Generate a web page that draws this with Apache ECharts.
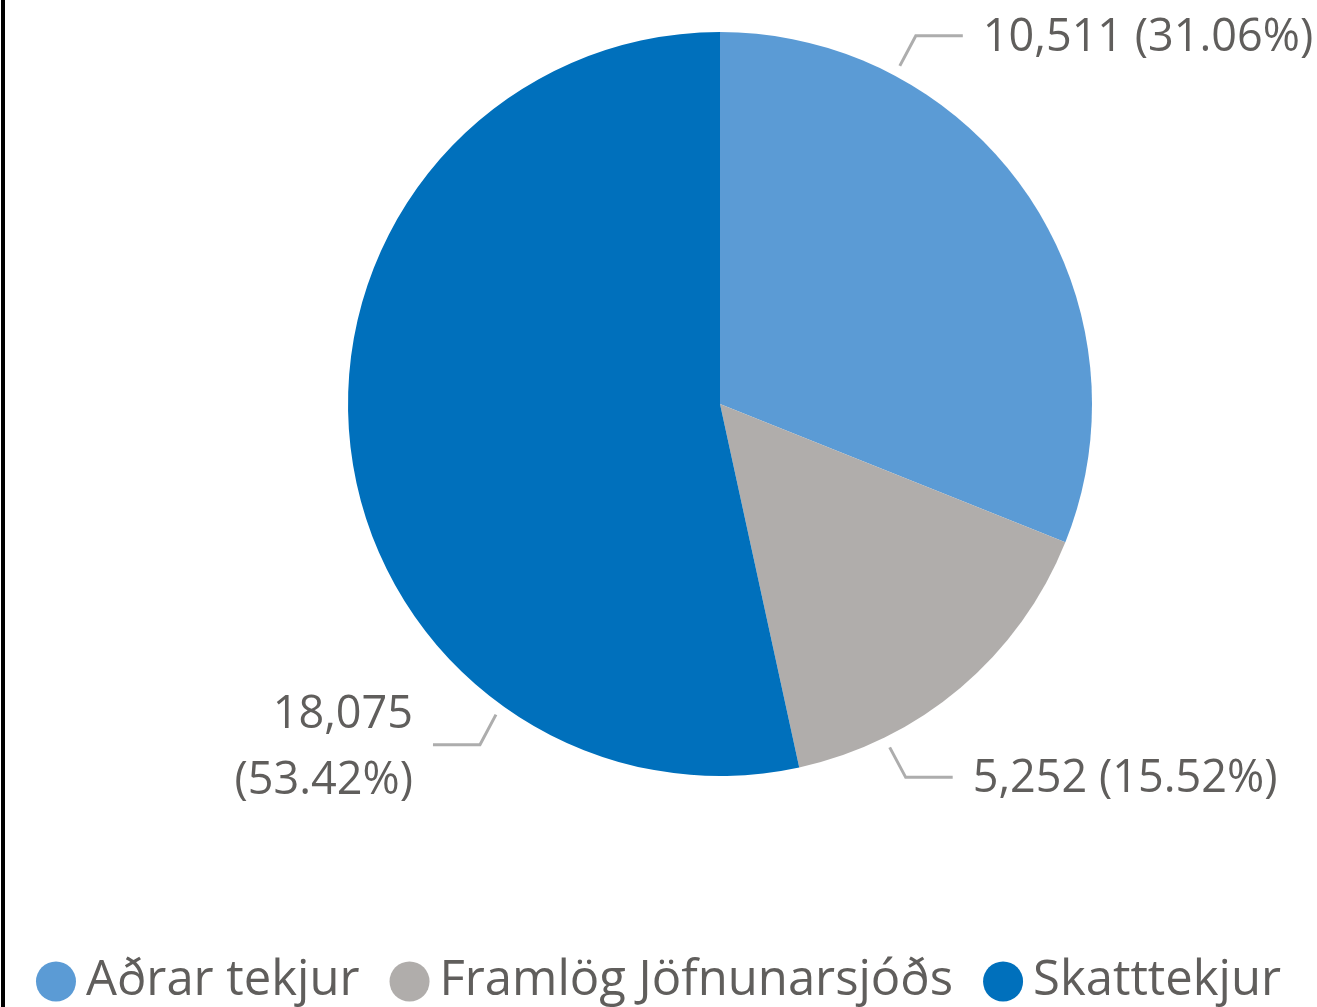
<!DOCTYPE html>
<html>
<head>
<meta charset="utf-8">
<script src="https://cdn.jsdelivr.net/npm/echarts@6/dist/echarts.min.js"></script>
<style>
  html, body { margin: 0; padding: 0; background: #fff; }
  #chart { width: 1317px; height: 1007px; }
</style>
</head>
<body>
<div id="chart"></div>
<script>
const categories = ['Aðrar tekjur', 'Framlög Jöfnunarsjóðs', 'Skatttekjur'];
const values = [10511, 5252, 18075];
const colors = ['#5B9BD5', '#B0ADAB', '#0070BC'];

// pie geometry (px)
const CX = 720, CY = 404, R = 372;
// where each label line leaves the pie, degrees counter-clockwise from 3 o'clock
const anchorAngles = [62, -63.7, 234.2];

const chart = echarts.init(document.getElementById('chart'));

const labelLayout = (params) => {
  const i = params.dataIndex;
  const a = anchorAngles[i] * Math.PI / 180;
  const cos = Math.cos(a), sin = Math.sin(a);
  const sx = cos >= 0 ? 1 : -1;
  const sy = sin >= 0 ? -1 : 1;
  const p0 = [CX + (R + 11) * cos, CY - (R + 11) * sin];
  const p1 = [p0[0] + sx * 16, p0[1] + sy * 30];
  const p2 = [p1[0] + sx * 47, p1[1]];
  return {
    x: p2[0] + sx * 20,
    y: p2[1] + (i === 2 ? 4 : 2),
    align: sx > 0 ? 'left' : 'right',
    verticalAlign: 'middle',
    labelLinePoints: [p0, p1, p2]
  };
};

const option = {
  animation: false,
  backgroundColor: '#fff',
  color: colors,
  graphic: [{
    type: 'rect',
    left: 1,
    top: 0,
    shape: { width: 4, height: 1007 },
    style: { fill: '#000' }
  }],
  legend: {
    data: categories,
    left: 'center',
    top: 957,
    padding: 0,
    icon: 'circle',
    itemWidth: 40,
    itemHeight: 40,
    itemGap: 30,
    textStyle: {
      fontFamily: 'Open Sans',
      fontSize: 49,
      color: '#605E5C',
      padding: [0, 0, 0, 5]
    }
  },
  series: [{
    type: 'pie',
    center: [CX, CY],
    radius: R,
    startAngle: 90,
    clockwise: true,
    percentPrecision: 2,
    data: categories.map((name, i) => ({ name, value: values[i] })),
    label: {
      show: true,
      position: 'outside',
      width: 440,
      fontFamily: 'Open Sans',
      fontSize: 45,
      lineHeight: 66,
      color: '#605E5C',
      formatter: (p) => {
        const v = p.value.toLocaleString('en-US');
        const pct = p.percent.toFixed(2) + '%';
        return p.dataIndex === 2 ? v + '\n(' + pct + ')' : v + ' (' + pct + ')';
      }
    },
    labelLine: {
      show: true,
      lineStyle: { color: '#ADADAD', width: 3 }
    },
    labelLayout: labelLayout,
    emphasis: { disabled: true }
  }]
};

chart.setOption(option);
</script>
</body>
</html>
